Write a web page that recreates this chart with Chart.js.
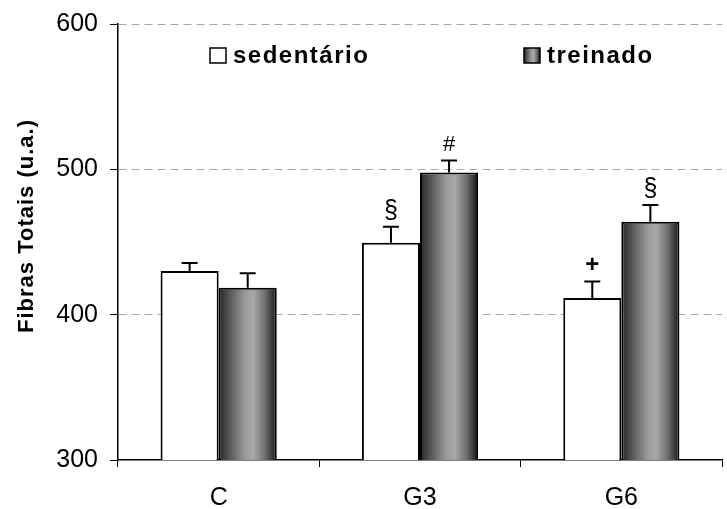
<!DOCTYPE html>
<html>
<head>
<meta charset="utf-8">
<script src="https://cdn.jsdelivr.net/npm/chart.js@4"></script>
<style>
    html, body { margin: 0; padding: 0; background: #fff; }
    #wrap { width: 727px; height: 509px; }
</style>
</head>
<body>
<div id="wrap"><canvas id="fibrasChart" width="727" height="509"></canvas></div>
<script>
const groups = ['C', 'G3', 'G6'];
const sedentario = [430, 449.5, 411.5];
const sedentarioErr = [5.5, 11, 11.3];
const treinado = [418.5, 497.8, 464];
const treinadoErr = [10, 8.3, 11.5];
const sedentarioMarks = ['', '§', '+'];
const treinadoMarks = ['', '#', '§'];
const yTicks = [300, 400, 500, 600];

const FONT = "'Liberation Sans', Arial, sans-serif";
const MARK_FONTS = { '§': '25px ', '#': '22px ', '+': 'bold 24px ' };

function barGradient(ctx, left, right) {
    const g = ctx.createLinearGradient(left, 0, right, 0);
    g.addColorStop(0, '#262626');
    g.addColorStop(0.2, '#5a5a5a');
    g.addColorStop(0.45, '#9a9a9a');
    g.addColorStop(0.6, '#a8a8a8');
    g.addColorStop(0.8, '#6e6e6e');
    g.addColorStop(1, '#161616');
    return g;
}

// cylinder shading on the treinado bars
const shadePlugin = {
    id: 'shade',
    beforeDatasetsDraw(chart) {
        const meta = chart.getDatasetMeta(1);
        meta.data.forEach(bar => {
            const g = barGradient(chart.ctx, bar.x - bar.width / 2, bar.x + bar.width / 2);
            bar.options = Object.assign({}, bar.options, { backgroundColor: g });
        });
    }
};

// error bars and significance marks
const errorPlugin = {
    id: 'errors',
    afterDatasetsDraw(chart) {
        const ctx = chart.ctx;
        const y = chart.scales.y;
        const errs = [sedentarioErr, treinadoErr];
        const marks = [sedentarioMarks, treinadoMarks];
        chart.data.datasets.forEach((ds, di) => {
            chart.getDatasetMeta(di).data.forEach((bar, i) => {
                const top = y.getPixelForValue(ds.data[i] + errs[di][i]);
                ctx.save();
                ctx.strokeStyle = '#000';
                ctx.lineWidth = 2;
                ctx.beginPath();
                ctx.moveTo(bar.x, bar.y);
                ctx.lineTo(bar.x, top);
                ctx.moveTo(bar.x - 8, top);
                ctx.lineTo(bar.x + 8, top);
                ctx.stroke();
                const m = marks[di][i];
                if (m) {
                    ctx.fillStyle = '#000';
                    ctx.font = MARK_FONTS[m] + FONT;
                    ctx.textAlign = 'center';
                    ctx.textBaseline = 'middle';
                    ctx.fillText(m, bar.x, top - 16);
                }
                ctx.restore();
            });
        });
    }
};

// legend inside the plot and rotated axis title
const legendX = [210, 524];
const legendPlugin = {
    id: 'customLegend',
    afterDraw(chart) {
        const ctx = chart.ctx;
        ctx.save();
        chart.data.datasets.forEach((ds, i) => {
            const x = legendX[i];
            const top = 48;
            ctx.fillStyle = i === 0 ? '#fff' : barGradient(ctx, x, x + 16);
            ctx.fillRect(x, top, 16, 15);
            ctx.strokeStyle = '#000';
            ctx.lineWidth = 1.5;
            ctx.strokeRect(x, top, 16, 15);
            ctx.fillStyle = '#000';
            ctx.font = 'bold 24px ' + FONT;
            ctx.letterSpacing = '1.5px';
            ctx.textAlign = 'left';
            ctx.textBaseline = 'middle';
            ctx.fillText(ds.label, x + 23, top + 8);
        });
        ctx.letterSpacing = '1px';
        ctx.translate(27, 226);
        ctx.rotate(-Math.PI / 2);
        ctx.font = 'bold 22px ' + FONT;
        ctx.textAlign = 'center';
        ctx.textBaseline = 'middle';
        ctx.fillText('Fibras Totais (u.a.)', 0, 0);
        ctx.restore();
    }
};

new Chart(document.getElementById('fibrasChart'), {
    type: 'bar',
    data: {
        labels: groups,
        datasets: [
            {
                label: 'sedentário',
                data: sedentario,
                backgroundColor: '#fff',
                borderColor: '#000',
                borderWidth: 2,
                categoryPercentage: 0.577,
                barPercentage: 1
            },
            {
                label: 'treinado',
                data: treinado,
                backgroundColor: '#999',
                borderColor: '#000',
                borderWidth: 2,
                categoryPercentage: 0.577,
                barPercentage: 1
            }
        ]
    },
    options: {
        responsive: false,
        animation: false,
        layout: { padding: { top: 24, right: 5, left: 0, bottom: 0 } },
        plugins: {
            legend: { display: false },
            tooltip: { enabled: false }
        },
        scales: {
            x: {
                afterFit: (s) => { s.height = 49; s.paddingLeft = 0; s.paddingRight = 0; },
                grid: {
                    offset: true,
                    drawOnChartArea: false,
                    color: '#000',
                    tickLength: 7
                },
                border: { color: '#000', width: 1.5 },
                ticks: {
                    color: '#000',
                    padding: 16,
                    font: { family: FONT, size: 25 }
                }
            },
            y: {
                min: 300,
                max: 600,
                afterFit: (s) => { s.width = 118; s.paddingTop = 0; s.paddingBottom = 0; },
                afterBuildTicks: (s) => { s.ticks = yTicks.map(v => ({ value: v })); },
                grid: {
                    color: (c) => c.tick && c.tick.value === 300 ? 'rgba(0,0,0,0)' : '#a6a6a6',
                    tickColor: '#000',
                    tickLength: 8
                },
                border: { color: '#000', width: 1.5, dash: [8, 5] },
                ticks: {
                    color: '#000',
                    padding: 12,
                    font: { family: FONT, size: 25 }
                }
            }
        }
    },
    plugins: [shadePlugin, errorPlugin, legendPlugin]
});
</script>
</body>
</html>
